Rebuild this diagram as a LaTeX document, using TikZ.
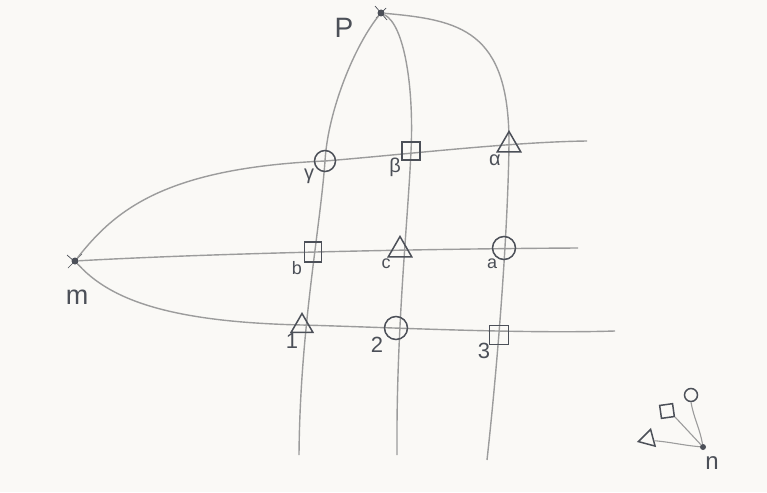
\documentclass[tikz,border=0pt]{standalone}
\usepackage{fontspec}
\setmainfont{Liberation Sans}
\usetikzlibrary{shapes.geometric}
\definecolor{paper}{HTML}{FAF9F6}
\definecolor{pencil}{HTML}{9C9C9C}
\definecolor{ink}{HTML}{4C5058}
\tikzset{
  curve/.style={draw=pencil, line width=1.4pt},
  mk/.style={draw=ink, line width=1.5pt, inner sep=0pt},
  circ/.style={mk, circle, minimum size=21pt},
  sq/.style={mk, rectangle, minimum size=18pt},
  tri/.style={mk, regular polygon, regular polygon sides=3, minimum size=27pt},
  lbl/.style={text=ink, font=\fontsize{18}{18}\selectfont, inner sep=0pt},
  grk/.style={lbl, font=\fontsize{20}{20}\selectfont},
  dig/.style={lbl, font=\fontsize{22}{22}\selectfont},
  pt/.style={circle, fill=ink, inner sep=0pt, minimum size=7pt},
}
\begin{document}
\begin{tikzpicture}[x=1pt,y=-1pt]
\fill[paper] (0,0) rectangle (767,492);
\useasboundingbox (0,0) rectangle (767,492);

% poles
\node[pt] (P) at (381,13) {};
\node[pt] (m) at (75,261) {};
\node[pt, minimum size=6pt] (n) at (703,447) {};
\draw[ink, line width=0.7pt] (375,6) -- (387,20) (376,18) -- (386,8);
\draw[ink, line width=0.7pt] (67,255) -- (82,268) (68,268) -- (82,254);

% intersection coordinates
\coordinate (gam) at (325,161);
\coordinate (bet) at (411,151);
\coordinate (alp) at (509,143);
\coordinate (bb) at (313,252);
\coordinate (cc) at (398,250);
\coordinate (aa) at (504,248);
\coordinate (one) at (302,325);
\coordinate (two) at (396,328);
\coordinate (thr) at (499,333);

% free ends
\coordinate (L1) at (299,455);
\coordinate (L2) at (397,455);
\coordinate (L3) at (487,460);
\coordinate (R1) at (587,141);
\coordinate (R2) at (578,248);
\coordinate (R3) at (615,331);

% vertical curves from P
\draw[curve] (P) .. controls (355,45) and (328,110) .. (gam)
                 .. controls (320,230) and (300,330) .. (L1);
\draw[curve] (P) .. controls (405,25) and (414,90) .. (bet)
                 .. controls (408,220) and (396,330) .. (L2);
\draw[curve] (P) .. controls (460,20) and (509,30) .. (alp)
                 .. controls (508,230) and (498,360) .. (L3);

% horizontal curves from m
\draw[curve] (m) .. controls (115,210) and (165,168) .. (gam)
                 .. controls (400,155) and (510,142) .. (R1);
\draw[curve] (m) .. controls (200,254) and (400,249) .. (R2);
\draw[curve] (m) .. controls (110,300) and (170,322) .. (one)
                 .. controls (380,327) and (520,334) .. (R3);

% markers
\node[circ] (mg) at (gam) {};
\node[sq] (mb) at (bet) {};
\node[tri] (ma) at (509,145) {};
\node[sq, minimum width=17pt, minimum height=20pt] (mbb) at (bb) {};
\node[tri] (mc) at (400,250) {};
\node[circ, minimum size=23pt] (maa) at (aa) {};
\node[tri, minimum size=25pt] (m1) at (302,326) {};
\node[circ, minimum size=23pt] (m2) at (two) {};
\node[sq, minimum size=19pt] (m3) at (499,335) {};

% labels
\node[lbl, font=\fontsize{28}{28}\selectfont] (lP) at (344,28) {P};
\node[lbl, font=\fontsize{27}{27}\selectfont] (lm) at (77,297) {m};
\node[lbl, font=\fontsize{24}{24}\selectfont] (ln) at (712,463) {n};
\node[grk] (lg) at (309,176) {γ};
\node[grk] (lb) at (395,167) {β};
\node[grk] (la) at (495,160) {α};
\node[lbl] (lbb) at (297,268) {b};
\node[lbl] (lc) at (386,264) {c};
\node[lbl] (laa) at (492,264) {a};
\node[dig] (l1) at (292,341) {1};
\node[dig] (l2) at (377,345) {2};
\node[dig] (l3) at (484,351) {3};

% legend near n
\node[mk, circle, minimum size=13pt] (kc) at (691,395) {};
\node[mk, rectangle, minimum size=13pt, rotate=8] (ks) at (667,411) {};
\node[mk, regular polygon, regular polygon sides=3, minimum size=20pt, rotate=-15] (kt) at (648,439) {};
\draw[curve, line width=1.1pt] (kc.south) to[out=-80, in=100] (n);
\draw[curve, line width=1.1pt] (ks.south east) -- (n);
\draw[curve, line width=1.1pt] (kt.east) to[out=-5, in=175] (n);
\end{tikzpicture}
\end{document}
